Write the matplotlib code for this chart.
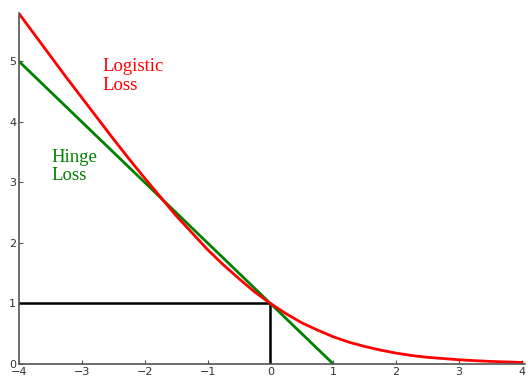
import numpy as np
import matplotlib
matplotlib.use("Agg")
import matplotlib.pyplot as plt

# margin values
x_vals = [-4.0, -3.75, -3.5, -3.25, -3.0, -2.75, -2.5, -2.25, -2.0,
          -1.75, -1.5, -1.25, -1.0, -0.75, -0.5, -0.25, 0.0,
          0.25, 0.5, 0.75, 1.0, 1.25, 1.5, 1.75, 2.0,
          2.25, 2.5, 2.75, 3.0, 3.25, 3.5, 3.75, 4.0]
logistic_loss = [5.79, 5.44, 5.09, 4.74, 4.40, 4.06, 3.72, 3.39, 3.07,
                 2.76, 2.45, 2.17, 1.89, 1.64, 1.41, 1.19, 1.00,
                 0.83, 0.68, 0.56, 0.45, 0.36, 0.29, 0.23, 0.18,
                 0.14, 0.11, 0.09, 0.07, 0.055, 0.043, 0.034, 0.026]
hinge_x = [-4.0, 1.0]
hinge_loss = [5.0, 0.0]
marker_x = [-4.0, 0.0, 0.0]
marker_y = [1.0, 1.0, 0.0]

fig = plt.figure(figsize=(5.28, 3.79), dpi=100)
ax = fig.add_axes([19 / 528, 15 / 379, 506 / 528, 351 / 379])

ax.plot(marker_x, marker_y, color="black", lw=1.8)
ax.plot(hinge_x, hinge_loss, color="#008000", lw=2)
ax.plot(x_vals, logistic_loss, color="red", lw=2)

ax.text(-2.68, 5.05, "Logistic\nLoss", color="red", fontsize=13.5,
        family="Liberation Serif", va="top", ha="left", linespacing=1.1)
ax.text(-3.48, 3.56, "Hinge\nLoss", color="#008000", fontsize=13.5,
        family="Liberation Serif", va="top", ha="left", linespacing=1.1)

ax.set_xlim(-4, 4.05)
ax.set_ylim(0, 5.8)
ax.set_xticks(range(-4, 5))
ax.set_yticks(range(0, 6))
ax.set_xticklabels([str(v).replace("-", "\u2212") for v in range(-4, 5)])
for side in ("top", "right"):
    ax.spines[side].set_visible(False)
for side in ("left", "bottom"):
    ax.spines[side].set_color("#555555")
    ax.spines[side].set_linewidth(1.2)
ax.tick_params(direction="in", length=3, colors="#555555", labelsize=8,
               labelcolor="#333333", pad=2)

fig.savefig("out.png", dpi=100)
